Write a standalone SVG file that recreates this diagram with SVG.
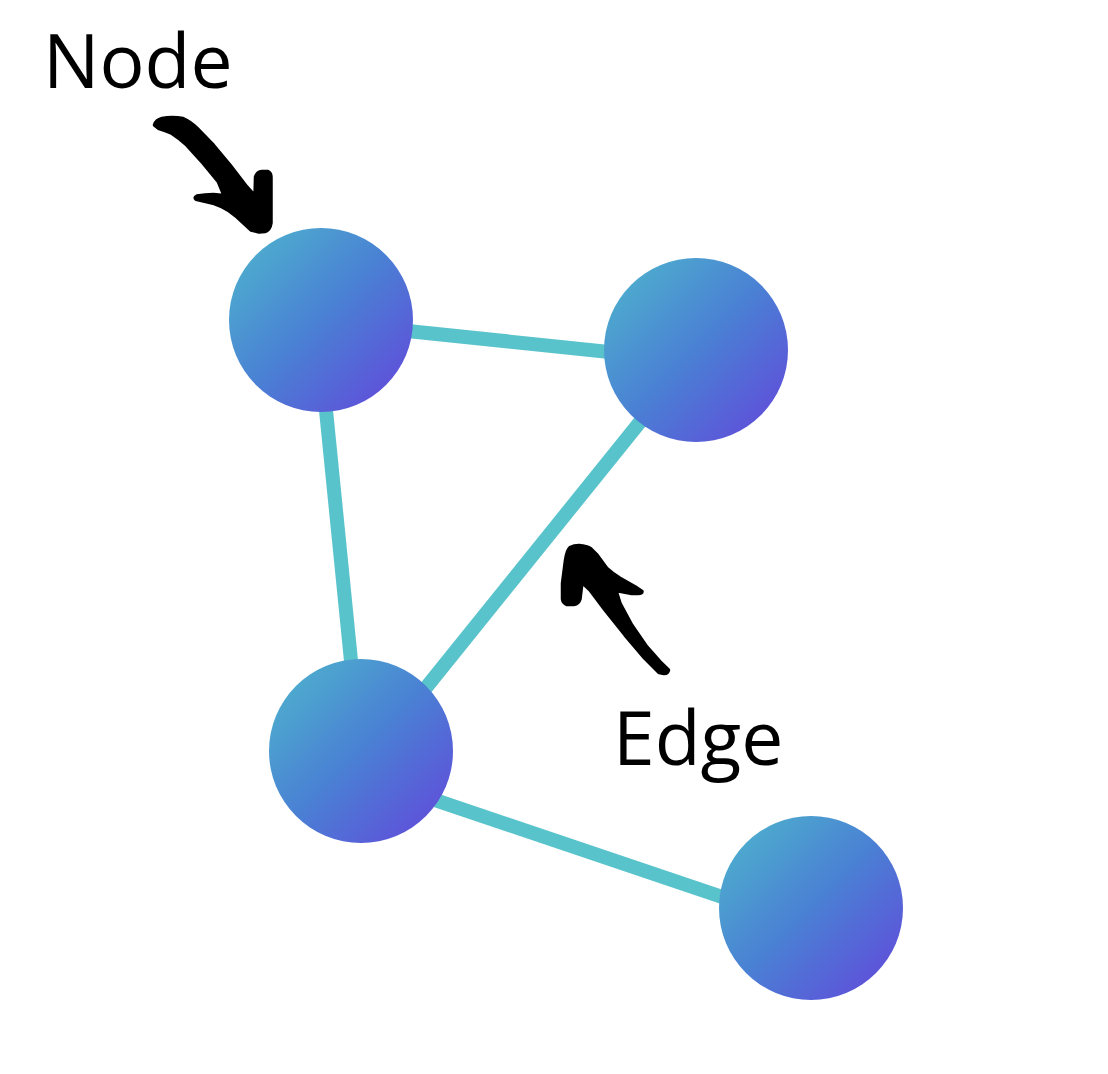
<svg xmlns="http://www.w3.org/2000/svg" width="1108" height="1074" viewBox="0 0 1108 1074">
<style>
.edge{stroke:#58C3CB;stroke-width:14;fill:none}
.node{fill:url(#g)}
.lbl{font-family:"Open Sans","Noto Sans",sans-serif;font-size:75px;fill:#000}
.arr{fill:#000;stroke:#000;stroke-width:3.5;stroke-linejoin:round}
</style>
<defs>
<linearGradient id="g" x1="0" y1="0" x2="1" y2="1">
<stop offset="0" stop-color="#4EB8CC"/>
<stop offset="0.5" stop-color="#4A80D4"/>
<stop offset="1" stop-color="#6444DB"/>
</linearGradient>
</defs>
<rect width="1108" height="1074" fill="#fff"/>
<g id="connectors">
<line class="edge" x1="321" y1="322" x2="696" y2="361"/>
<line class="edge" x1="317" y1="320" x2="360" y2="751"/>
<line class="edge" x1="698" y1="350" x2="375" y2="751"/>
<line class="edge" x1="361" y1="775" x2="811" y2="927"/>
</g>
<g id="node1"><circle class="node" cx="321" cy="320" r="92"/></g>
<g id="node2"><circle class="node" cx="696" cy="350" r="92"/></g>
<g id="node3"><circle class="node" cx="361" cy="751" r="92"/></g>
<g id="node4"><circle class="node" cx="811" cy="908" r="92"/></g>
<g id="label-node">
<text class="lbl" x="43" y="88">Node</text>
<path class="arr" d="M154.5,125 Q156,120 162,118.5 Q172,116.5 183,118.5 Q191,122 197,128.3 L213.3,145 L230,165 L246.7,186.7 L255,196 L255.5,177 Q257,172 262,171.5 L268,171.5 Q271,173 271,177 L271,223 Q270,230 265,231.5 L259,232 L251,230 L236.7,216.7 Q229,210 221.7,206.7 Q214,203 206.7,201.7 L196,199.3 Q194,197.5 197,196 Q205,194.5 213.3,194.5 L224,195.5 L218.3,181.7 L203.3,163.3 L186.7,145 Q179,138 171.7,133.3 Q165,130 159,128.5 Z"/>
</g>
<g id="label-edge">
<text class="lbl" x="613" y="765">Edge</text>
<path class="arr" d="M570,547.5 Q574,545.5 579,545.5 Q587,546 591,549 L597,555 L606.7,568.3 Q613,574 620,578.3 L635,586.7 L642,591.5 Q642,593.5 638,593.5 L631.7,593.5 L616,590.5 L620,603.3 L631.7,625 L646.7,646.7 L660,661.7 L668.5,670 Q668,673.5 664,673.5 L659,672.5 L643.3,656.7 L625,635 L605,610 L590,590 L582,582.5 L580,599 Q578.5,604 574,604.5 L567,604.5 Q563,603 562.5,599 L562.5,583.3 L565.5,560 Q567,550 570,547.5 Z"/>
</g>
</svg>
